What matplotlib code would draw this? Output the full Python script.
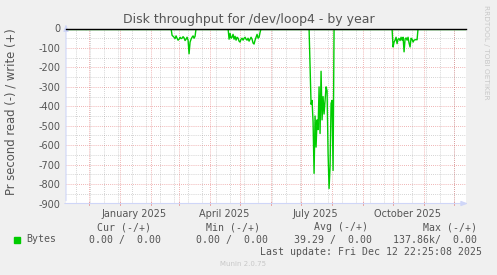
import numpy as np
import pandas as pd
import matplotlib
matplotlib.use("Agg")
import matplotlib.pyplot as plt

plt.rcParams["axes.unicode_minus"] = False

# ---------------- data ----------------
end_time = pd.Timestamp("2025-12-12 22:25:08")
start_time = end_time - pd.Timedelta(days=400)

# daily read throughput (negative = read), bursts
burst1_start = "2025-02-21"
burst1_vals = [0, -35, -40, -45, -52, -38, -50, -60, -55, -45, -52, -50, -42, -48,
               -62, -55, -45, -60, -130, -70, -55, -45, -38, -50, -40, 0]
burst2_start = "2025-04-19"
burst2_vals = [0, -55, -25, -50, -45, -30, -55, -40, -60, -45, -50, -65, -70, -55,
               -50, -60, -50, -45, -55, -60, -50, -65, -55, -45, -55, -75, -80, -60,
               -45, -30, -50, -45, -20, 0]
burst3_start = "2025-07-09"
burst3_vals = [0, -200, -390, -370, -480, -745, -450, -610, -470, -520, -300, -540,
               -220, -470, -350, -440, -370, -300, -320, -640, -823, -710, -385,
               -370, -730, 0]
burst4_start = "2025-09-30"
burst4_vals = [0, -95, -70, -60, -45, -78, -55, -52, -62, -45, -60, -45, -120, -55,
               -48, -60, -45, -75, -95, -50, -55, -70, -60, -58, -57, -58, 0]
blip_dates = ["2024-11-28", "2025-06-20", "2025-09-01"]
blip_vals = [-5, -4, -4]

write_vals = 0.0  # write side is flat zero

y_ticks = [0, -100, -200, -300, -400, -500, -600, -700, -800, -900]
x_label_dates = ["2025-01-15", "2025-04-15", "2025-07-15", "2025-10-15"]
x_label_text = ["January 2025", "April 2025", "July 2025", "October 2025"]

legend_header = ["Cur (-/+)", "Min (-/+)", "Avg (-/+)", "Max (-/+)"]
legend_values = ["0.00 /  0.00", "0.00 /  0.00", "39.29 /  0.00", "137.86k/  0.00"]

# build daily series
days = pd.date_range(start_time.normalize() + pd.Timedelta(days=1), end_time.normalize(), freq="D")
series = pd.Series(0.0, index=days)
for s, vals in [(burst1_start, burst1_vals), (burst2_start, burst2_vals),
                (burst3_start, burst3_vals), (burst4_start, burst4_vals)]:
    idx = pd.date_range(s, periods=len(vals), freq="D")
    series.loc[idx] = vals
for d, v in zip(blip_dates, blip_vals):
    series.loc[pd.Timestamp(d)] = v

# ---------------- figure ----------------
W, H = 497, 275
fig = plt.figure(figsize=(W / 100, H / 100), dpi=100, facecolor="#F0F0F0")
L, R, T, B = 66, 466, 28.5, 203.5
ax = fig.add_axes([L / W, 1 - B / H, (R - L) / W, (B - T) / H])
ax.set_facecolor("white")

FONT = "#555555"
AXISC = "#CFD6F8"

ax.set_xlim(start_time, end_time)
ax.set_ylim(-900, 0)

# grids
minor_c = (0.5, 0.5, 0.5, 0.45)
major_c = (0.88, 0.4, 0.4, 0.65)
for y in np.arange(-850, 0, 100):
    ax.axhline(y, color=minor_c, lw=0.6, dashes=(1, 1.5), zorder=1)
for y in y_ticks[1:]:
    ax.axhline(y, color=major_c, lw=0.6, dashes=(1, 1.5), zorder=1)

minor_x = pd.date_range("2024-11-18", end_time, freq="14D")
for d in minor_x:
    ax.axvline(d, color=minor_c, lw=0.6, dashes=(1, 1.5), zorder=1)
major_x = pd.date_range("2024-12-01", end_time, freq="MS")
for d in major_x:
    ax.axvline(d, color=major_c, lw=0.6, dashes=(1, 1.5), zorder=1)

# data
ax.plot(series.index, series.values, color="#00CC00", lw=1.0, zorder=3)
ax.plot([start_time, end_time], [write_vals, write_vals], color="#00CC00", lw=1.0, zorder=3)
ax.axhline(0, color="black", lw=1.0, zorder=4, clip_on=False)

for sp in ax.spines.values():
    sp.set_visible(False)
ax.set_xticks([])
ax.set_yticks(y_ticks)
ax.set_yticklabels([str(v) for v in y_ticks], fontsize=7, color=FONT)
ax.tick_params(axis="y", length=0, pad=4)

for d, t in zip(x_label_dates, x_label_text):
    ax.text(pd.Timestamp(d), -0.03, t, transform=ax.get_xaxis_transform(),
            ha="center", va="top", fontsize=7, color=FONT)

# axis lines with arrows
ax.annotate("", xy=(0, 1.04), xytext=(0, 0), xycoords="axes fraction",
            arrowprops=dict(arrowstyle="-|>,head_width=0.15,head_length=0.4", color=AXISC, lw=0.8),
            annotation_clip=False)
ax.annotate("", xy=(1.012, 0), xytext=(-0.01, 0), xycoords="axes fraction",
            arrowprops=dict(arrowstyle="-|>,head_width=0.15,head_length=0.4", color=AXISC, lw=0.8),
            annotation_clip=False)
for d in major_x:
    ax.plot([d, d], [-900 - 8, -900 + 8], color=major_c, lw=0.6, clip_on=False, zorder=2)

def px(x, y):
    return x / W, 1 - y / H

fig.text(*px(11, 112), "Pr second read (-) / write (+)", rotation=90, ha="center", va="center",
         fontsize=8.4, color=FONT)
fig.text(*px(248.5, 19), "Disk throughput for /dev/loop4 - by year", ha="center", va="center",
         fontsize=9, color=FONT)
fig.text(*px(486, 5), "RRDTOOL / TOBI OETIKER", rotation=270, ha="center", va="top",
         fontsize=5.3, color="#C8C8C8")

mono = dict(family="DejaVu Sans Mono", fontsize=7.1, color=FONT, va="center")
hdr_right = [151, 260, 368, 477]
val_right = [161, 268, 372, 477]
for xr, t in zip(hdr_right, legend_header):
    fig.text(*px(xr, 227.5), t, ha="right", **mono)
for xr, t in zip(val_right, legend_values):
    fig.text(*px(xr, 239.5), t, ha="right", **mono)
fig.text(*px(26, 239.5), "Bytes", ha="left", **mono)
fig.patches.append(plt.Rectangle(px(14, 242.7), 6 / W, 6 / H, transform=fig.transFigure,
                                 color="#00CC00", figure=fig))
fig.text(*px(482.5, 252), "Last update: Fri Dec 12 22:25:08 2025", ha="right", **mono)
fig.text(*px(243, 264), "Munin 2.0.75", ha="center", va="center", fontsize=5.0, color="#C8C8C8")

fig.savefig("out.png", dpi=100, facecolor=fig.get_facecolor())
